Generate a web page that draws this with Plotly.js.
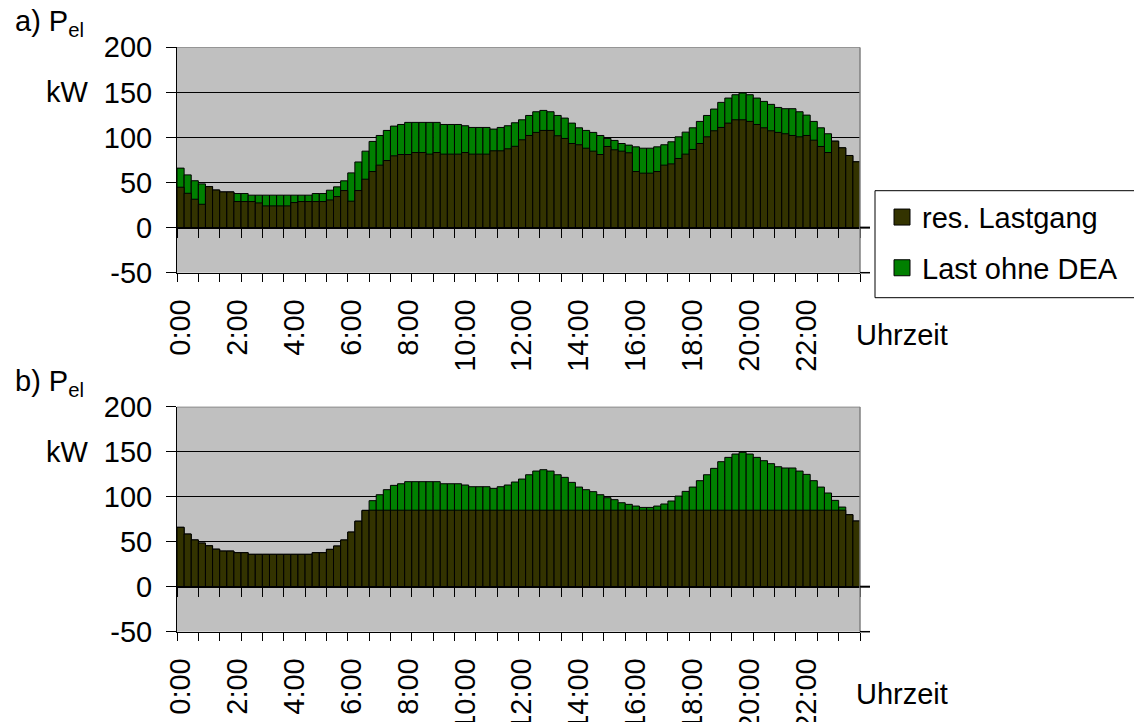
<!DOCTYPE html>
<html>
<head>
<meta charset="utf-8">
<script src="https://cdn.plot.ly/plotly-3.0.1.min.js"></script>
<style>html,body{margin:0;padding:0;background:#fff;}#chart{width:1134px;height:722px;}</style>
</head>
<body>
<div id="chart"></div>
<script>
// ---- data (15-minute values, kW) ----
const times = [];
for (let h = 0; h < 24; h++) { for (let m = 0; m < 60; m += 15) { times.push(h + ':' + (m < 10 ? '0' + m : m)); } }

const hourLabels = ['0:00','2:00','4:00','6:00','8:00','10:00','12:00','14:00','16:00','18:00','20:00','22:00'];

// Last ohne DEA (total load)
const lastOhneDEA = [
  66, 58.5, 52, 48.5, 45.5, 41.7, 39.6, 39.6,
  37.8, 37.8, 36, 36, 36, 36, 36, 36,
  36, 36, 36, 37.8, 37.8, 41.5, 45.2, 51.9,
  60.7, 72.8, 84.8, 95.6, 102.2, 107.8, 112.6, 114.4,
  116.7, 116.7, 116.7, 116.7, 116.7, 114.4, 114.4, 114.4,
  113, 111.1, 111.1, 111.1, 109.3, 111.1, 113, 116.3,
  119.6, 124.4, 128.5, 130, 128.5, 124.4, 121.5, 115.9,
  110.7, 107.8, 105.6, 102.2, 98.9, 96.7, 93.3, 91.5,
  89.6, 88.1, 88.1, 89.6, 91.9, 95.2, 100.7, 105.9,
  110.7, 117.8, 124.4, 131.5, 138.9, 143.7, 147.4, 149.3,
  147.4, 143.7, 140, 136.7, 133.3, 131.9, 131.9, 128.5,
  124.8, 117.8, 110.7, 104.1, 95.9, 88.5, 80, 73
];

// res. Lastgang, chart a)
const resLastgangA = [
  44.8, 38.1, 31.5, 25.9, 45.5, 41.7, 39.6, 39.6,
  28.9, 28.9, 28.9, 27.4, 24.1, 24.1, 24.1, 24.1,
  27.8, 28.9, 28.9, 28.9, 28.9, 30.7, 34.4, 41.1,
  29.3, 41.1, 53.7, 62.2, 69.3, 74.4, 79.6, 81.1,
  81.1, 83.3, 83.3, 81.5, 83.3, 81.5, 81.5, 81.5,
  83.3, 81.5, 81.5, 81.5, 85.2, 85.2, 87.4, 90.2,
  97.4, 102.2, 105.6, 107.8, 107.8, 101.9, 98.9, 93.3,
  91.9, 88.1, 84.8, 81.1, 90, 86.3, 84.8, 83,
  62.2, 60.4, 60.4, 62.2, 69.3, 70.7, 76.7, 81.5,
  86.7, 93.3, 100.7, 107.4, 111.1, 115.9, 119.6, 119.6,
  117.8, 114.4, 110.7, 107.4, 105.6, 104.1, 102.2, 100.7,
  102.2, 97, 90, 83.3, 95.9, 88.5, 80, 73
];

// res. Lastgang, chart b)
const resLastgangB = [
  66, 58.5, 52, 48.5, 45.5, 41.7, 39.6, 39.6,
  37.8, 37.8, 36, 36, 36, 36, 36, 36,
  36, 36, 36, 37.8, 37.8, 41.5, 45.2, 51.9,
  60.7, 72.8, 84.8, 85, 85, 85, 85, 85,
  85, 85, 85, 85, 85, 85, 85, 85,
  85, 85, 85, 85, 85, 85, 85, 85,
  85, 85, 85, 85, 85, 85, 85, 85,
  85, 85, 85, 85, 85, 85, 85, 85,
  85, 85, 85, 85, 85, 85, 85, 85,
  85, 85, 85, 85, 85, 85, 85, 85,
  85, 85, 85, 85, 85, 85, 85, 85,
  85, 85, 85, 85, 85, 85, 80, 73
];

const yTicks = [-50, 0, 50, 100, 150, 200];
const yTickText = ['-50', '0', '50', '100', '150', '200'];

// ---- layout geometry (pixels) ----
const W = 1134, H = 722;
const plotLeft = 177, plotRight = 860;
const panels = [
  { top: 47.3, bottom: 272.7, res: resLastgangA, label: 'a)' },
  { top: 406.7, bottom: 631.7, res: resLastgangB, label: 'b)' }
];
const yRange = [-50, 200];
const xDom = [plotLeft / W, plotRight / W];
const boundaryTicks = [];
for (let k = 0; k <= times.length; k += 3) boundaryTicks.push(k - 0.5);

const FONT = 'Liberation Sans, Arial, sans-serif';
const COL_RES = '#333300';
const COL_TOT = '#008000';
const legBox = { left: 875, top: 190.7, bottom: 297.7, right: 1145 };

const traces = [];
const layout = {
  width: W, height: H,
  margin: { l: 0, r: 0, t: 0, b: 0 },
  paper_bgcolor: '#ffffff',
  plot_bgcolor: '#c0c0c0',
  barmode: 'overlay',
  bargap: 0,
  font: { family: FONT, size: 29, color: '#000' },
  showlegend: true,
  legend: {
    x: (legBox.left + 7) / W, y: 1 - (legBox.top + 1) / H, xanchor: 'left', yanchor: 'top',
    bgcolor: 'rgba(0,0,0,0)', borderwidth: 0,
    font: { family: FONT, size: 29, color: '#000' },
    traceorder: 'grouped', tracegroupgap: 10, itemsizing: 'trace'
  },
  shapes: [
    { type: 'rect', xref: 'paper', yref: 'paper', x0: legBox.left / W, x1: legBox.right / W, y0: 1 - legBox.bottom / H, y1: 1 - legBox.top / H, line: { color: '#000', width: 1 }, fillcolor: '#ffffff', layer: 'below' }
  ],
  annotations: []
};

panels.forEach((p, i) => {
  const n = i * 3;
  const xa = n === 0 ? 'x' : 'x' + (n + 1);
  const xb = 'x' + (n + 2);
  const xc = 'x' + (n + 3);
  const ya = i === 0 ? 'y' : 'y2';
  const yDom = [1 - p.bottom / H, 1 - p.top / H];
  const zeroPos = yDom[0] + (0 - yRange[0]) / (yRange[1] - yRange[0]) * (yDom[1] - yDom[0]);
  const axKey = s => s === 'x' ? 'xaxis' : 'xaxis' + s.slice(1);
  const yKey = ya === 'y' ? 'yaxis' : 'yaxis2';

  traces.push({
    type: 'bar', x: times, y: lastOhneDEA, xaxis: xa, yaxis: ya,
    marker: { color: COL_TOT, line: { color: '#000', width: 1 } },
    name: 'Last ohne DEA', showlegend: false, hoverinfo: 'skip'
  });
  traces.push({
    type: 'bar', x: times, y: p.res, xaxis: xa, yaxis: ya,
    marker: { color: COL_RES, line: { color: '#000', width: 1 } },
    name: 'res. Lastgang', showlegend: false, hoverinfo: 'skip'
  });
  traces.push({ type: 'scatter', mode: 'markers', x: [null], y: [null], xaxis: xb, yaxis: ya, showlegend: false, hoverinfo: 'skip' });
  traces.push({ type: 'scatter', mode: 'markers', x: [null], y: [null], xaxis: xc, yaxis: ya, showlegend: false, hoverinfo: 'skip' });

  // category axis with hour labels
  layout[axKey(xa)] = {
    type: 'category', domain: xDom, anchor: ya, range: [-0.5, times.length - 0.5],
    tickmode: 'array', tickvals: hourLabels, ticktext: hourLabels,
    tickangle: -90, ticks: '', showgrid: false, zeroline: false,
    showline: true, linecolor: '#000', linewidth: 1,
    tickfont: { family: FONT, size: 29, color: '#000' },
    ticklabelstandoff: 14, fixedrange: true
  };
  // tick marks between categories at the bottom edge
  layout[axKey(xb)] = {
    type: 'linear', overlaying: xa, anchor: ya, side: 'bottom',
    range: [-0.5, times.length - 0.5], tickmode: 'array', tickvals: boundaryTicks,
    ticks: 'outside', ticklen: 8, tickwidth: 1, tickcolor: '#000',
    showticklabels: false, showgrid: false, zeroline: false, showline: false
  };
  // axis crossing at 0 with tick marks
  layout[axKey(xc)] = {
    type: 'linear', overlaying: xa, anchor: 'free', position: zeroPos, side: 'bottom',
    range: [-0.5, times.length - 0.5], tickmode: 'array', tickvals: boundaryTicks,
    ticks: 'outside', ticklen: 9, tickwidth: 1, tickcolor: '#000',
    showticklabels: false, showgrid: false, zeroline: false,
    showline: true, linecolor: '#000', linewidth: 2
  };
  layout[yKey] = {
    domain: yDom, anchor: xa, range: yRange,
    tickmode: 'array', tickvals: yTicks, ticktext: yTickText,
    ticks: 'outside', ticklen: 10, tickwidth: 1, tickcolor: '#000',
    showline: true, linecolor: '#000', linewidth: 1,
    showgrid: true, gridcolor: '#000', gridwidth: 1, zeroline: false,
    tickfont: { family: FONT, size: 29, color: '#000' },
    ticklabelstandoff: 8, fixedrange: true
  };

  // gray top and right frame, axis stubs beyond right edge
  layout.shapes.push({ type: 'line', xref: 'paper', yref: ya, x0: xDom[0], x1: xDom[1], y0: yRange[1], y1: yRange[1], line: { color: '#808080', width: 1.5 }, layer: 'above' });
  layout.shapes.push({ type: 'line', xref: 'paper', yref: ya, x0: xDom[1], x1: xDom[1], y0: yRange[0], y1: yRange[1], line: { color: '#808080', width: 1.5 }, layer: 'above' });
  layout.shapes.push({ type: 'line', xref: 'paper', yref: 'paper', x0: xDom[1], x1: xDom[1] + 10 / W, y0: zeroPos, y1: zeroPos, line: { color: '#000', width: 2 } });
  layout.shapes.push({ type: 'line', xref: 'paper', yref: 'paper', x0: xDom[1], x1: xDom[1] + 10 / W, y0: yDom[0], y1: yDom[0], line: { color: '#000', width: 1.5 } });

  // texts
  layout.annotations.push({ xref: 'paper', yref: 'paper', x: 13 / W, y: 1 - (p.top - 24) / H, xanchor: 'left', yanchor: 'middle', showarrow: false, text: p.label + ' P<sub>el</sub>', font: { family: FONT, size: 29, color: '#000' } });
  layout.annotations.push({ xref: 'paper', yref: ya, x: 91 / W, y: 150, xanchor: 'right', yanchor: 'middle', showarrow: false, text: 'kW', font: { family: FONT, size: 29, color: '#000' } });
  layout.annotations.push({ xref: 'paper', yref: 'paper', x: 854 / W, y: 1 - (p.bottom + 62) / H, xanchor: 'left', yanchor: 'middle', showarrow: false, text: 'Uhrzeit', font: { family: FONT, size: 29, color: '#000' } });
});

// legend entries
traces.push({ type: 'scatter', mode: 'markers', x: [null], y: [null], xaxis: 'x2', yaxis: 'y', name: 'res. Lastgang', legendgroup: 'g1', marker: { symbol: 'square', size: 16, color: COL_RES, line: { color: '#000', width: 1 } }, hoverinfo: 'skip' });
traces.push({ type: 'scatter', mode: 'markers', x: [null], y: [null], xaxis: 'x2', yaxis: 'y', name: 'Last ohne DEA', legendgroup: 'g2', marker: { symbol: 'square', size: 16, color: COL_TOT, line: { color: '#000', width: 1 } }, hoverinfo: 'skip' });

Plotly.newPlot('chart', traces, layout, { staticPlot: true, displayModeBar: false });
</script>
</body>
</html>
